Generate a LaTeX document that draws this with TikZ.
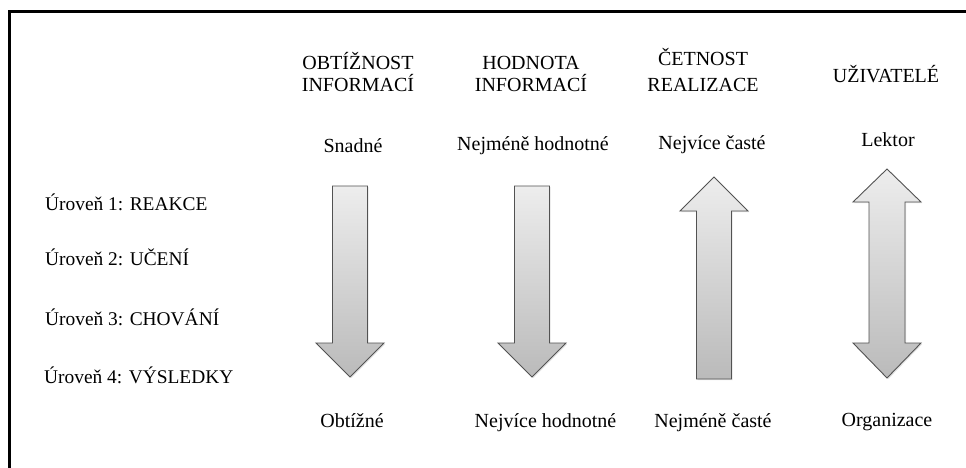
\documentclass[tikz,border=0pt]{standalone}
\usepackage{fontspec}
\setmainfont{Liberation Serif}
\usetikzlibrary{shadows}
\begin{document}
\begin{tikzpicture}[x=1pt,y=-1pt,
  lbl/.style={font=\rmfamily\fontsize{20}{22.4}\selectfont, inner sep=0pt, anchor=base},
  head/.style={lbl, align=center},
  level/.style={lbl, font=\rmfamily\fontsize{19.4}{22}\selectfont, anchor=base west},
  block/.style={draw=black!68, line width=0.9pt, line join=miter,
    top color=black!7, bottom color=black!27,
    drop shadow={opacity=0.22, shadow xshift=1.2pt, shadow yshift=-1.2pt}}]
  % page and frame
  \useasboundingbox (0,0) rectangle (966,468);
  \fill[white] (0,0) rectangle (966,468);
  \draw[line width=3.5pt, line join=miter] (9.5,470) -- (9.5,11.5) -- (968,11.5);

  % column headings (node base = baseline of the last line)
  \node[head] (h1) at (358,91.7) {OBTÍŽNOST\\INFORMACÍ};
  \node[head] (h2) at (531,91.7) {HODNOTA\\INFORMACÍ};
  \node[head] (h3) at (703,91.7) {ČETNOST\\[3.3pt]REALIZACE};
  \node[head] (h4) at (886,82.3) {UŽIVATELÉ};

  % upper ends of the scales
  \node[lbl] (t1) at (353,153) {Snadné};
  \node[lbl] (t2) at (533,150) {Nejméně hodnotné};
  \node[lbl] (t3) at (712,149.3) {Nejvíce časté};
  \node[lbl] (t4) at (888,146.7) {Lektor};

  % lower ends of the scales
  \node[lbl] (b1) at (352,427) {Obtížné};
  \node[lbl] (b2) at (545.5,427) {Nejvíce hodnotné};
  \node[lbl] (b3) at (713,427) {Nejméně časté};
  \node[lbl] (b4) at (887,426) {Organizace};

  % evaluation levels
  \node[level] (l1) at (45,210.7) {Úroveň 1: REAKCE};
  \node[level] (l2) at (45,265) {Úroveň 2: UČENÍ};
  \node[level] (l3) at (45,325.7) {Úroveň 3: CHOVÁNÍ};
  \node[level] (l4) at (44,383.3) {Úroveň 4: VÝSLEDKY};

  % block arrows
  \path[block] (332.5,186) -- (367.5,186) -- (367.5,343) -- (384,343)
    -- (350,377) -- (316,343) -- (332.5,343) -- cycle;
  \path[block] (514.5,186) -- (549.5,186) -- (549.5,343) -- (566,343)
    -- (532,377) -- (498,343) -- (514.5,343) -- cycle;
  \path[block] (696.5,379) -- (731.5,379) -- (731.5,211) -- (748,211)
    -- (714,177) -- (680,211) -- (696.5,211) -- cycle;
  \path[block] (869,202) -- (853,202) -- (887,169) -- (921,202) -- (905,202)
    -- (905,343) -- (921,343) -- (887,378) -- (853,343) -- (869,343) -- cycle;
\end{tikzpicture}
\end{document}
